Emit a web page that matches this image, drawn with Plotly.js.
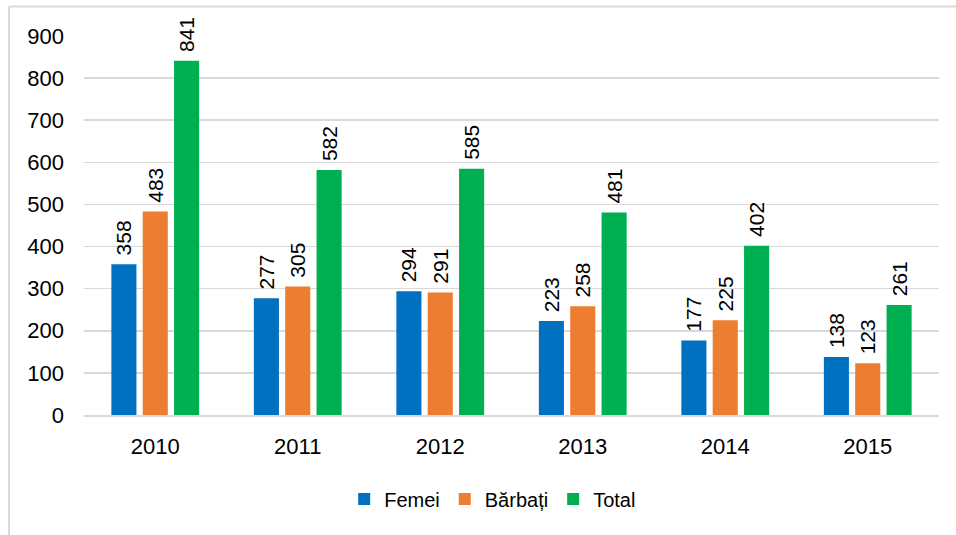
<!DOCTYPE html>
<html><head><meta charset="utf-8">
<script src="https://cdn.plot.ly/plotly-3.0.1.min.js"></script>
<style>html,body{margin:0;padding:0;background:#fff}#c{width:956px;height:535px}</style>
</head><body><div id="c"></div>
<script>
const years = ['2010','2011','2012','2013','2014','2015'];
const femei = [358,277,294,223,177,138];
const barbati = [483,305,291,258,225,123];
const total = [841,582,585,481,402,261];
const names = ['Femei','Bărbați','Total'];
const colors = ['#0070C0','#ED7D31','#00B050'];
const series = [femei, barbati, total];
const FONT = 'Liberation Sans, Arial, sans-serif';
const traces = series.map((v,i)=>({
  type:'bar', x:years, y:v, name:names[i],
  marker:{color:colors[i], line:{width:0}},
  texttemplate:'\u00a0%{y}', textposition:'outside', textangle:-90,
  constraintext:'none',
  textfont:{family:FONT, size:21, color:'#000'},
  cliponaxis:false
}));
const layout = {
  width:956, height:535,
  margin:{l:84, r:17, t:36, b:120},
  paper_bgcolor:'#fff', plot_bgcolor:'#fff',
  barmode:'group', bargap:0.34, bargroupgap:0.2,
  showlegend:true,
  legend:{orientation:'h', x:0.478, xanchor:'center', y:-0.17, yanchor:'top',
    font:{family:FONT, size:20, color:'#000'},
    itemwidth:30, traceorder:'normal'},
  xaxis:{type:'category', showgrid:false, showline:true, linecolor:'#d9d9d9', linewidth:1.5,
    ticks:'', ticklabelstandoff:11, tickfont:{family:FONT, size:22, color:'#000'}},
  yaxis:{range:[0,900], dtick:100, showgrid:true, gridcolor:'#d9d9d9', gridwidth:1.5,
    zeroline:false, showline:false, ticks:'', ticklen:0, ticklabelstandoff:19,
    tickfont:{family:FONT, size:22, color:'#000'}},
  shapes:[
    {type:'line', xref:'paper', yref:'paper', x0:-0.0877, x1:-0.0877, y0:1.0778, y1:-0.35, line:{color:'#d9d9d9', width:2}},
    {type:'line', xref:'paper', yref:'paper', x0:-0.0877, x1:1.03, y0:1.0778, y1:1.0778, line:{color:'#d9d9d9', width:2}}
  ]
};
Plotly.newPlot('c', traces, layout, {displayModeBar:false, staticPlot:true});
</script></body></html>
